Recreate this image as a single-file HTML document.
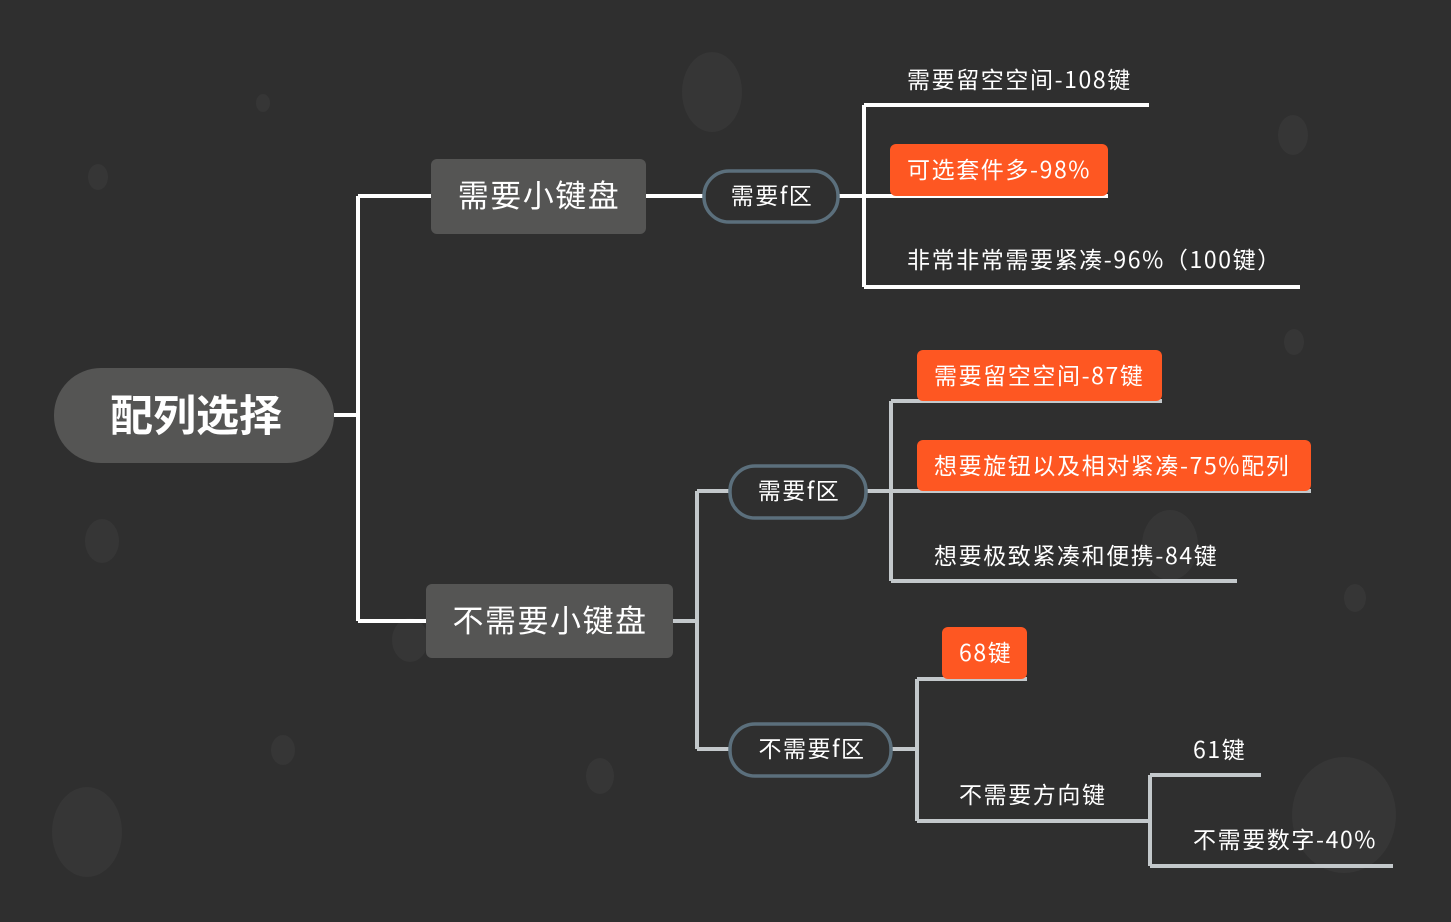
<!DOCTYPE html>
<html><head><meta charset="utf-8"><style>
html,body{margin:0;padding:0;background:#2f2f2f;}
svg{display:block}
text{font-family:"Noto Sans CJK SC","Liberation Sans",sans-serif;fill:#fff;}
</style></head><body>
<svg width="1451" height="922" viewBox="0 0 1451 922" xmlns="http://www.w3.org/2000/svg">
<rect width="1451" height="922" fill="#2f2f2f"/>
<g fill="#363636">
<ellipse cx="712" cy="92" rx="30" ry="40"/>
<ellipse cx="1293" cy="135" rx="15" ry="20"/>
<ellipse cx="98" cy="177" rx="10" ry="13"/>
<ellipse cx="263" cy="103" rx="7" ry="9"/>
<ellipse cx="102" cy="541" rx="17" ry="22"/>
<ellipse cx="1294" cy="342" rx="10" ry="13"/>
<ellipse cx="1170" cy="545" rx="28" ry="35"/>
<ellipse cx="1355" cy="598" rx="11" ry="14"/>
<ellipse cx="283" cy="750" rx="12" ry="15"/>
<ellipse cx="600" cy="776" rx="14" ry="18"/>
<ellipse cx="87" cy="832" rx="35" ry="45"/>
<ellipse cx="1344" cy="815" rx="52" ry="58"/>
<ellipse cx="410" cy="640" rx="18" ry="22"/>
</g>
<g stroke="#ffffff" stroke-width="4" fill="none">
<path d="M334 415H358M358 196V621M358 196H431M358 621H426"/>
<path d="M646 196H703M838 196H864M864 105V287M864 105H1149M864 196H1108M864 287H1300"/>
</g>
<g stroke="#c3c8cb" stroke-width="4" fill="none">
<path d="M673 621H697M697 491V749M697 491H729M697 749H729"/>
<path d="M866 491H891M891 401V581M891 401H1162M891 491H1311M891 581H1237"/>
<path d="M891 749H917M917 679V821M917 679H1027M917 821H1150M1150 775V866M1150 775H1261M1150 866H1393"/>
</g>
<rect x="54" y="368" width="280" height="95" rx="47" fill="#555554"/>
<text x="196" y="431" font-size="43" font-weight="bold" text-anchor="middle">配列选择</text>
<rect x="431" y="159" width="215" height="75" rx="6" fill="#555554"/>
<text x="539" y="207" font-size="31" letter-spacing="1.5" text-anchor="middle">需要小键盘</text>
<rect x="426" y="584" width="247" height="74" rx="6" fill="#555554"/>
<text x="550" y="632" font-size="31" letter-spacing="1.5" text-anchor="middle">不需要小键盘</text>
<g fill="#2f2f2f" stroke="#5b6f7c" stroke-width="3.5">
<rect x="704" y="171" width="134" height="51" rx="25"/>
<rect x="730" y="466" width="136" height="52" rx="25"/>
<rect x="730" y="724" width="161" height="52" rx="25"/>
</g>
<g font-size="23" letter-spacing="1.5" text-anchor="middle">
<text x="772" y="204">需要f区</text>
<text x="799" y="499">需要f区</text>
<text x="812" y="757">不需要f区</text>
</g>
<g fill="#fe5722">
<rect x="890" y="144" width="218" height="52" rx="6"/>
<rect x="917" y="350" width="245" height="51" rx="6"/>
<rect x="917" y="440" width="394" height="51" rx="6"/>
<rect x="942" y="627" width="85" height="52" rx="6"/>
</g>
<g font-size="23" letter-spacing="1.6">
<text x="907" y="88">需要留空空间-108键</text>
<text x="907" y="178">可选套件多-98%</text>
<text x="907" y="268">非常非常需要紧凑-96%（100键）</text>
<text x="934" y="384">需要留空空间-87键</text>
<text x="934" y="474">想要旋钮以及相对紧凑-75%配列</text>
<text x="934" y="564">想要极致紧凑和便携-84键</text>
<text x="959" y="661">68键</text>
<text x="959" y="803">不需要方向键</text>
<text x="1193" y="758">61键</text>
<text x="1193" y="848">不需要数字-40%</text>
</g>
</svg>
</body></html>
